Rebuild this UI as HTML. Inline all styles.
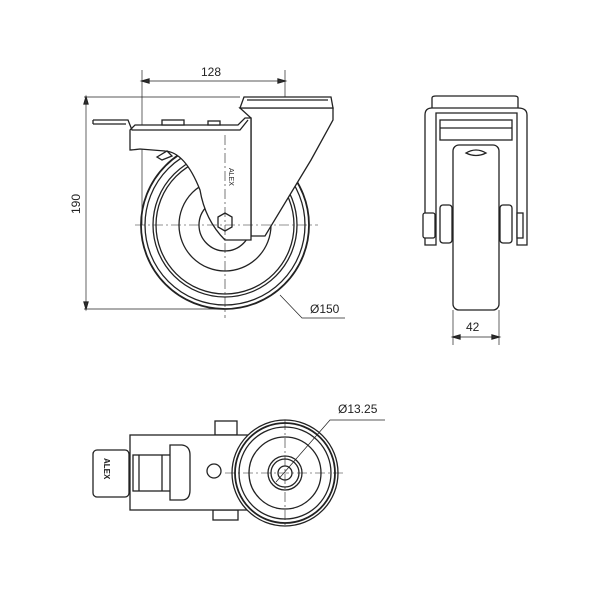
<!DOCTYPE html>
<html><head><style>
html,body{margin:0;padding:0;background:#fff}
svg{display:block}
text{font-family:"Liberation Sans","DejaVu Sans",sans-serif;fill:#222}
</style></head><body>
<svg width="600" height="600" viewBox="0 0 600 600" xmlns="http://www.w3.org/2000/svg">
<g fill="none" stroke="#222" stroke-width="1.3">
<!-- ===== front view ===== -->
<line x1="142" y1="70" x2="142" y2="225" stroke-width="0.7"/>
<line x1="285" y1="70" x2="285" y2="112" stroke-width="0.7"/>
<line x1="142" y1="81" x2="285" y2="81" stroke-width="0.7"/>
<path d="M142 81 l7 -2 v4z M285 81 l-7 -2 v4z" fill="#333"/>
<line x1="84" y1="97" x2="240" y2="97" stroke-width="0.7"/>
<line x1="84" y1="309" x2="225" y2="309" stroke-width="0.7"/>
<line x1="86" y1="97" x2="86" y2="309" stroke-width="0.7"/>
<path d="M86 97 l-2 7 h4z M86 309 l-2 -7 h4z" fill="#333"/>
<circle cx="225" cy="225" r="84" stroke-width="1.8"/>
<circle cx="225" cy="225" r="80"/>
<circle cx="225" cy="225" r="72"/>
<circle cx="225" cy="225" r="69"/>
<circle cx="225" cy="225" r="46"/>
<circle cx="225" cy="225" r="26"/>
<path d="M240 108 L333 108 L333 120 L311 160 L265 236 L251 236 L251 118 Z" fill="#fff"/>
<path d="M244 97 L331 97 L333 108 L240 108 Z" fill="#fff"/>
<line x1="247" y1="100" x2="328" y2="100"/>
<path d="M130 130 L130 150 Q132 150 140 149 L165 151 Q185 152 200 190 Q205 220 225 240 L251 240 L251 118 L245 118 L238 125 L135 125 Z" fill="#fff"/>
<path d="M93 120 L128 120 L132 130 L240 130 L248 120" />
<line x1="93" y1="120" x2="93" y2="124"/>
<line x1="93" y1="124" x2="126" y2="124"/>
<rect x="162" y="120" width="22" height="5" fill="#fff"/>
<rect x="208" y="121" width="12" height="4" fill="#fff"/>
<path d="M157 157 l10 -6 l5 5 l-10 4 z" fill="#fff"/>
<polygon points="218,217 225,213 232,217 232,227 225,231 218,227" fill="#fff"/>
<text x="0" y="0" font-size="7" transform="translate(229,168) rotate(90)" fill="#333" stroke="none">ALEX</text>
<g stroke-width="0.6" stroke-dasharray="10 3 2 3">
<line x1="135" y1="225" x2="318" y2="225"/>
<line x1="225" y1="135" x2="225" y2="318"/>
</g>
<path d="M280 295 L302 318 L345 318" stroke-width="0.7"/>
<!-- ===== side view ===== -->
<path d="M432 108 L432 98 Q432 96 436 96 L514 96 Q518 96 518 98 L518 108" fill="#fff"/>
<path d="M425 245 L425 115 Q425 108 432 108 L518 108 Q527 108 527 115 L527 245 L517 245 L517 113 L436 113 L436 245 Z" fill="#fff"/>
<rect x="440" y="120" width="72" height="20" fill="#fff"/>
<line x1="440" y1="128" x2="512" y2="128"/>
<rect x="453" y="145" width="46" height="165" rx="6" fill="#fff"/>
<rect x="440" y="205" width="12" height="38" rx="3" fill="#fff"/>
<rect x="500" y="205" width="12" height="38" rx="3" fill="#fff"/>
<rect x="423" y="213" width="12" height="25" rx="2" fill="#fff"/>
<rect x="517" y="213" width="6" height="25" fill="#fff"/>
<path d="M466 153 q10 -6 20 0 q-10 5 -20 0z" fill="#fff"/>
<line x1="453" y1="310" x2="453" y2="345" stroke-width="0.7"/>
<line x1="499" y1="310" x2="499" y2="345" stroke-width="0.7"/>
<line x1="453" y1="337" x2="499" y2="337" stroke-width="0.7"/>
<path d="M453 337 l7 -2 v4z M499 337 l-7 -2 v4z" fill="#333"/>
<!-- ===== bottom view ===== -->
<rect x="215" y="421" width="22" height="14" fill="#fff"/>
<rect x="213" y="510" width="25" height="10" fill="#fff"/>
<rect x="130" y="435" width="120" height="75" fill="#fff"/>
<rect x="93" y="450" width="36" height="47" rx="4" fill="#fff"/>
<rect x="133" y="455" width="40" height="36" fill="#fff"/>
<line x1="139" y1="455" x2="139" y2="491"/>
<line x1="162" y1="455" x2="162" y2="491"/>
<path d="M170 445 L182 445 Q190 446 190 455 L190 490 Q190 500 182 500 L170 500 Z" fill="#fff"/>
<circle cx="214" cy="471" r="7"/>
<circle cx="285" cy="473" r="53" fill="#fff"/>
<circle cx="285" cy="473" r="50" stroke-width="1.8"/>
<circle cx="285" cy="473" r="46"/>
<circle cx="285" cy="473" r="36"/>
<circle cx="285" cy="473" r="17"/>
<circle cx="285" cy="473" r="14"/>
<circle cx="285" cy="473" r="7"/>
<g stroke-width="0.6" stroke-dasharray="10 3 2 3">
<line x1="225" y1="473" x2="345" y2="473"/>
<line x1="285" y1="420" x2="285" y2="525"/>
</g>
<path d="M276 482 L330 420 L385 420" stroke-width="0.7"/>
</g>
<g font-size="12">
<text x="201" y="76">128</text>
<text x="0" y="0" transform="translate(80,214) rotate(-90)">190</text>
<text x="310" y="313">Ø150</text>
<text x="466" y="331">42</text>
<text x="338" y="413">Ø13.25</text>
</g>
<text x="0" y="0" font-size="8" font-weight="bold" transform="translate(104,458) rotate(90)">ALEX</text>
</svg>
</body></html>
